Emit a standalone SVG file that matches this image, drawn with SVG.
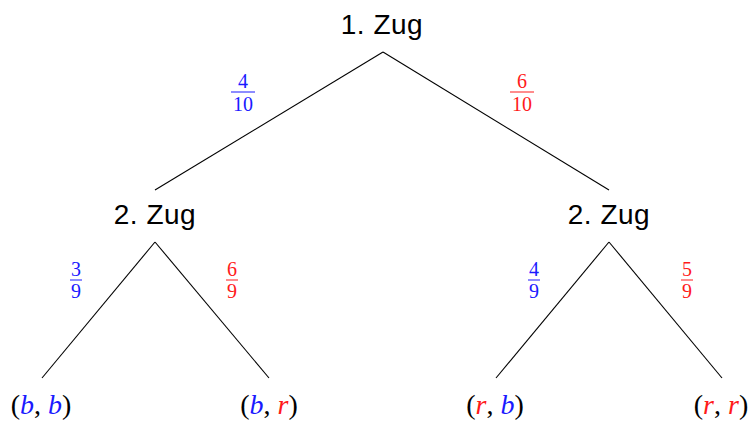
<svg xmlns="http://www.w3.org/2000/svg" width="754" height="423" viewBox="0 0 754 423">
<style>
.lbl{font-family:"Liberation Sans","DejaVu Sans",sans-serif;font-size:28px;fill:#000;text-anchor:middle;letter-spacing:0.5px}
.leaf{font-family:"Liberation Serif","DejaVu Serif",serif;font-size:28px;fill:#000;text-anchor:middle}
.v{font-style:italic}
.b{fill:#1a1aff}
.r{fill:#ff1a1a}
.fr{font-family:"Liberation Serif","DejaVu Serif",serif;font-size:20px;text-anchor:middle}
.edge{stroke:#000;stroke-width:1.1;fill:none}
</style>
<rect width="754" height="423" fill="#fff"/>
<g id="connectors">
<line class="edge" x1="383" y1="52" x2="155" y2="190"/>
<line class="edge" x1="383" y1="52" x2="609" y2="190"/>
<line class="edge" x1="155" y1="242" x2="42" y2="378"/>
<line class="edge" x1="155" y1="242" x2="269" y2="378"/>
<line class="edge" x1="609" y1="242" x2="496" y2="378"/>
<line class="edge" x1="609" y1="242" x2="722" y2="378"/>
</g>
<g id="edge-labels">
<g class="fr b"><text x="243" y="88">4</text><rect x="231" y="91.5" width="24" height="1"/><text x="243" y="111">10</text></g>
<g class="fr r"><text x="522" y="88">6</text><rect x="510" y="91.5" width="24" height="1"/><text x="522" y="111">10</text></g>
<g class="fr b"><text x="76" y="276">3</text><rect x="70" y="279.5" width="12" height="1"/><text x="76" y="298">9</text></g>
<g class="fr r"><text x="232" y="276">6</text><rect x="226" y="279.5" width="12" height="1"/><text x="232" y="298">9</text></g>
<g class="fr b"><text x="534" y="276">4</text><rect x="528" y="279.5" width="12" height="1"/><text x="534" y="298">9</text></g>
<g class="fr r"><text x="687" y="276">5</text><rect x="681" y="279.5" width="12" height="1"/><text x="687" y="298">9</text></g>
</g>
<g id="node-root"><text class="lbl" x="382" y="34">1. Zug</text></g>
<g id="node-left"><text class="lbl" x="155" y="224">2. Zug</text></g>
<g id="node-right"><text class="lbl" x="609" y="224">2. Zug</text></g>
<g id="leaf-bb"><text class="leaf" x="41" y="414">(<tspan class="v b">b</tspan>, <tspan class="v b">b</tspan>)</text></g>
<g id="leaf-br"><text class="leaf" x="269" y="414">(<tspan class="v b">b</tspan>, <tspan class="v r">r</tspan>)</text></g>
<g id="leaf-rb"><text class="leaf" x="495" y="414">(<tspan class="v r">r</tspan>, <tspan class="v b">b</tspan>)</text></g>
<g id="leaf-rr"><text class="leaf" x="721" y="414">(<tspan class="v r">r</tspan>, <tspan class="v r">r</tspan>)</text></g>
</svg>
